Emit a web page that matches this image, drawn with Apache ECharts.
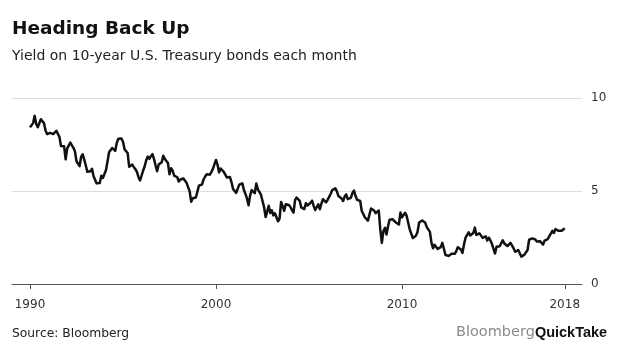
<!DOCTYPE html>
<html>
<head>
<meta charset="utf-8">
<script src="https://cdn.jsdelivr.net/npm/echarts@6/dist/echarts.min.js"></script>
<style>
html,body{margin:0;padding:0;background:#fff;}
#chart{width:620px;height:355px;}
</style>
</head>
<body>
<div id="chart"></div>
<script>
// Month-end 10-year U.S. Treasury yield (%), Jan 1990 onwards
const startYear = 1990;
const yields1990_1994 = [
  8.42, 8.51, 8.65, 9.04, 8.60, 8.43, 8.36, 8.86, 8.82, 8.65, 8.26, 8.06,
  8.04, 8.13, 8.06, 8.06, 8.11, 8.24, 8.20, 7.90, 7.42, 7.50, 7.40, 6.70,
  7.29, 7.31, 7.60, 7.56, 7.32, 7.12, 6.60, 6.62, 6.34, 6.84, 6.97, 6.69,
  6.37, 6.03, 6.03, 6.06, 6.19, 5.79, 5.80, 5.41, 5.38, 5.43, 5.82, 5.70,
  5.68, 6.12, 6.59, 7.08, 7.12, 7.31, 7.23, 7.16, 7.59, 7.81, 7.91, 7.82
];
const yields1995_1999 = [
  7.65, 7.24, 7.20, 7.04, 6.30, 6.20, 6.42, 6.28, 6.17, 6.03, 5.74, 5.57,
  5.60, 6.10, 6.33, 6.66, 6.85, 6.73, 6.87, 6.98, 6.72, 6.37, 6.06, 6.42,
  6.51, 6.55, 6.90, 6.72, 6.66, 6.50, 5.90, 6.22, 6.10, 5.83, 5.87, 5.74,
  5.51, 5.62, 5.66, 5.67, 5.55, 5.44, 5.49, 4.98, 4.42, 4.61, 4.71, 4.65,
  4.65, 5.29, 5.24, 5.35, 5.62, 5.78, 5.90, 5.97, 5.88, 6.02, 6.19, 6.44
];
const yields2000_2004 = [
  6.67, 6.41, 6.00, 6.21, 6.27, 6.03, 6.03, 5.73, 5.80, 5.75, 5.47, 5.11,
  5.11, 4.90, 4.92, 5.34, 5.38, 5.41, 5.05, 4.84, 4.59, 4.23, 4.75, 5.05,
  5.03, 4.88, 5.40, 5.09, 5.04, 4.80, 4.46, 4.14, 3.60, 3.89, 4.21, 3.82,
  3.96, 3.69, 3.80, 3.84, 3.37, 3.51, 4.41, 4.46, 3.94, 4.29, 4.33, 4.25,
  4.14, 3.97, 3.84, 4.51, 4.65, 4.58, 4.47, 4.12, 4.12, 4.03, 4.35, 4.22
];
const yields2005_2009 = [
  4.13, 4.37, 4.48, 4.20, 3.98, 3.91, 4.28, 4.02, 4.32, 4.56, 4.49, 4.39,
  4.52, 4.55, 4.85, 5.05, 5.11, 5.14, 4.98, 4.73, 4.63, 4.60, 4.46, 4.70,
  4.82, 4.56, 4.64, 4.63, 4.89, 5.02, 4.74, 4.53, 4.58, 4.47, 3.94, 4.02,
  3.59, 3.51, 3.41, 3.73, 4.06, 3.97, 3.95, 3.81, 3.83, 3.95, 2.92, 2.21,
  2.84, 3.02, 2.66, 3.12, 3.46, 3.53, 3.48, 3.40, 3.31, 3.39, 3.20, 3.84
];
const yields2010_2014 = [
  3.58, 3.61, 3.83, 3.66, 3.29, 2.93, 2.91, 2.47, 2.51, 2.60, 2.80, 3.29,
  3.37, 3.42, 3.47, 3.29, 3.06, 3.16, 2.80, 2.22, 1.92, 2.11, 2.07, 1.88,
  1.80, 1.98, 2.21, 1.91, 1.56, 1.65, 1.51, 1.55, 1.63, 1.69, 1.62, 1.76,
  1.98, 1.88, 1.85, 1.67, 2.13, 2.49, 2.58, 2.78, 2.61, 2.55, 2.74, 3.03,
  2.64, 2.65, 2.72, 2.65, 2.48, 2.53, 2.56, 2.34, 2.49, 2.34, 2.16, 2.17
];
const yields2015_2018 = [
  1.64, 2.00, 1.92, 2.03, 2.12, 2.35, 2.18, 2.22, 2.04, 2.14, 2.21, 2.27,
  1.92, 1.73, 1.77, 1.83, 1.85, 1.47, 1.45, 1.58, 1.59, 1.83, 2.38, 2.44,
  2.45, 2.39, 2.39, 2.28, 2.20, 2.30, 2.29, 2.12, 2.33, 2.38, 2.41, 2.41,
  2.71, 2.86, 2.74, 2.95, 2.86, 2.86, 2.96, 2.86, 2.95, 3.00
];
const xTickValues = [1990, 2000, 2010, 2018.75];
const xTickLabels = ['1990', '2000', '2010', '2018'];
const yTicks = [0, 5, 10];

const allYields = [].concat(yields1990_1994, yields1995_1999, yields2000_2004,
  yields2005_2009, yields2010_2014, yields2015_2018);
const seriesData = allYields.map((v, i) => [startYear + i / 12, v]);

const FONT = '"DejaVu Sans", sans-serif';
const chart = echarts.init(document.getElementById('chart'), null, {renderer: 'canvas'});
chart.setOption({
  animation: false,
  backgroundColor: '#ffffff',
  grid: {left: 12, right: 38, top: 98, bottom: 71},
  xAxis: {
    type: 'value',
    min: 1989.032,
    max: 2019.677,
    splitLine: {show: false},
    axisLine: {show: true, lineStyle: {color: '#555', width: 1}},
    axisTick: {show: true, customValues: xTickValues, length: 5, lineStyle: {color: '#555', width: 1}},
    axisLabel: {
      customValues: xTickValues,
      formatter: (v) => {
        const idx = xTickValues.findIndex(t => Math.abs(t - v) < 1e-6);
        return idx >= 0 ? xTickLabels[idx] : '';
      },
      margin: 15,
      fontFamily: FONT,
      fontSize: 12,
      color: '#333'
    }
  },
  yAxis: {
    type: 'value',
    position: 'right',
    min: yTicks[0],
    max: yTicks[yTicks.length - 1],
    interval: yTicks[1] - yTicks[0],
    axisLine: {show: false},
    axisTick: {show: false},
    splitLine: {show: true, lineStyle: {color: '#dcdcdc', width: 1}},
    axisLabel: {margin: 9, fontFamily: FONT, fontSize: 12, color: '#333'}
  },
  series: [{
    type: 'line',
    data: seriesData,
    showSymbol: false,
    symbol: 'none',
    lineStyle: {color: '#111', width: 2.5, join: 'round'},
    z: 3
  }],
  graphic: [
    {type: 'text', left: 12, top: 20, style: {text: 'Heading Back Up', font: 'bold 18.5px "DejaVu Sans"', fill: '#111'}},
    {type: 'text', left: 12, top: 49, style: {text: 'Yield on 10-year U.S. Treasury bonds each month', font: '14px "DejaVu Sans"', fill: '#222'}},
    {type: 'text', left: 12, top: 328, style: {text: 'Source: Bloomberg', font: '12.3px "DejaVu Sans"', fill: '#222'}},
    {type: 'text', left: 456, top: 325, style: {
      text: '{a|Bloomberg}{b|QuickTake}',
      rich: {
        a: {fontFamily: 'DejaVu Sans', fontSize: 14.5, lineHeight: 17, fill: '#8a8a8a'},
        b: {fontFamily: 'Liberation Sans', fontWeight: 'bold', fontSize: 14.5, lineHeight: 17, fill: '#111'}
      }
    }}
  ]
});
</script>
</body>
</html>
